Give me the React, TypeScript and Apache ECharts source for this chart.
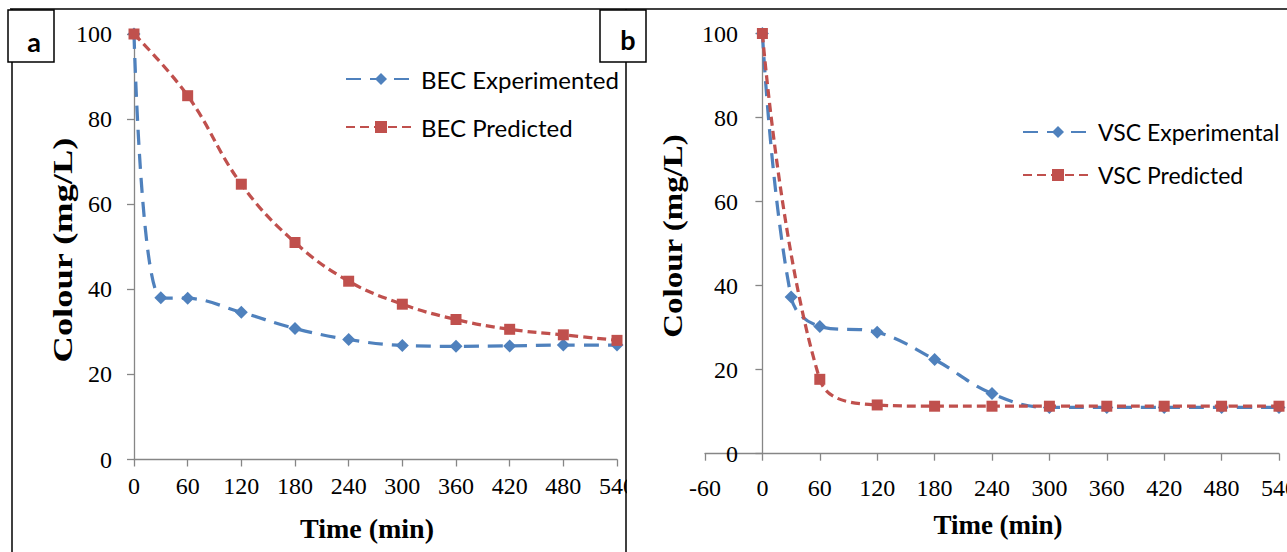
import React, { useEffect, useRef } from "react";
import * as echarts from "echarts";

// Panel a (BEC)
const becExpTime = [0, 30, 60, 120, 180, 240, 300, 360, 420, 480, 540];
const becExpValues = [100, 38.0, 37.9, 34.6, 30.8, 28.2, 26.8, 26.6, 26.7, 26.9, 26.9];
const becPredTime = [0, 60, 120, 180, 240, 300, 360, 420, 480, 540];
const becPredValues = [100, 85.5, 64.7, 51.0, 41.9, 36.5, 32.9, 30.6, 29.3, 28.0];

// Panel b (VSC)
const vscExpTime = [0, 30, 60, 120, 180, 240, 300, 360, 420, 480, 540];
const vscExpValues = [100, 37.3, 30.3, 28.9, 22.4, 14.3, 11.0, 11.0, 11.0, 11.0, 11.0];
const vscPredTime = [0, 60, 120, 180, 240, 300, 360, 420, 480, 540];
const vscPredValues = [100, 17.7, 11.6, 11.3, 11.3, 11.3, 11.3, 11.3, 11.3, 11.3];

const seriesNames = ["BEC Experimented", "BEC Predicted", "VSC Experimental", "VSC Predicted"];
const panelLetters = ["a", "b"];
const axisTitleX = "Time (min)";
const axisTitleY = "Colour (mg/L)";

const BLUE = "#4F81BD";
const RED = "#C0504D";
const AXIS = "#868686";
const SERIF = '"Liberation Serif", "Times New Roman", serif';
const SANS = 'Lato, "Noto Sans", sans-serif';

const zip = (xs: number[], ys: number[]) => xs.map((x, i) => [x, ys[i]]);

export default function App() {
  const ref = useRef<HTMLDivElement>(null);
  useEffect(() => {
    if (!ref.current) return;
    const chart = echarts.init(ref.current, null, { renderer: "svg" });

    const axisCommon = {
      type: "value",
      axisLine: { show: true, onZero: true, lineStyle: { color: AXIS, width: 1.3 } },
      axisTick: { show: true, length: 7, lineStyle: { color: AXIS, width: 1.3 } },
      splitLine: { show: false },
    };

    const tickFont = { color: "#000", fontFamily: SERIF, fontSize: 24 };

    const mkSeries = (name: string, xs: number[], ys: number[], idx: number, color: string, symbol: string, size: number, dash: number[]) => ({
      name,
      type: "line",
      xAxisIndex: idx,
      yAxisIndex: idx,
      data: zip(xs, ys),
      smooth: 0.4,
      symbol,
      symbolSize: size,
      showSymbol: true,
      itemStyle: { color },
      lineStyle: { color, width: 3.25, type: dash },
      z: symbol === "rect" ? 3 : 2,
    });

    const option: any = {
      animation: false,
      backgroundColor: "#fff",
      grid: [
        { left: 134, top: 34, width: 483, height: 425.5, outerBoundsMode: "none", containLabel: false },
        { left: 705, top: 33.5, width: 574, height: 420.2, outerBoundsMode: "none", containLabel: false },
      ],
      xAxis: [
        {
          ...axisCommon,
          gridIndex: 0,
          min: 0,
          max: 540,
          interval: 60,
          axisLabel: { ...tickFont, margin: 14, showMaxLabel: true, showMinLabel: true },
        },
        {
          ...axisCommon,
          gridIndex: 1,
          min: -60,
          max: 540,
          interval: 60,
          axisLabel: { ...tickFont, margin: 22, showMaxLabel: true, showMinLabel: true },
        },
      ],
      yAxis: [
        {
          ...axisCommon,
          gridIndex: 0,
          min: 0,
          max: 100,
          interval: 20,
          axisLabel: { ...tickFont, margin: 22 },
        },
        {
          ...axisCommon,
          gridIndex: 1,
          min: 0,
          max: 100,
          interval: 20,
          axisLabel: { ...tickFont, margin: -33 },
        },
      ],
      legend: [
        {
          data: [seriesNames[0], seriesNames[1]],
          orient: "vertical",
          left: 340,
          top: 59,
          itemWidth: 70,
          itemHeight: 15,
          itemGap: 18,
          textStyle: { color: "#000", fontFamily: SANS, fontSize: 24, lineHeight: 30 },
        },
        {
          data: [seriesNames[2], seriesNames[3]],
          orient: "vertical",
          left: 1017,
          top: 113,
          itemWidth: 70,
          itemHeight: 15,
          itemGap: 15,
          textStyle: { color: "#000", fontFamily: SANS, fontSize: 23, lineHeight: 28 },
        },
      ],
      series: [
        mkSeries(seriesNames[0], becExpTime, becExpValues, 0, BLUE, "diamond", 13, [15, 9]),
        mkSeries(seriesNames[1], becPredTime, becPredValues, 0, RED, "rect", 11, [9, 5]),
        mkSeries(seriesNames[2], vscExpTime, vscExpValues, 1, BLUE, "diamond", 13, [15, 9]),
        mkSeries(seriesNames[3], vscPredTime, vscPredValues, 1, RED, "rect", 11, [9, 5]),
      ],
      graphic: [
        // white mask clipping panel a's last tick label at the panel border
        { type: "rect", z: 100, shape: { x: 627, y: 466, width: 40, height: 40 }, style: { fill: "#fff" } },
        { type: "line", z: 101, shape: { x1: 10, y1: 9, x2: 1287, y2: 9 }, style: { stroke: "#000", lineWidth: 1.5 } },
        { type: "line", z: 101, shape: { x1: 12, y1: 9, x2: 12, y2: 552 }, style: { stroke: "#000", lineWidth: 1.5 } },
        { type: "line", z: 101, shape: { x1: 626, y1: 9, x2: 626, y2: 552 }, style: { stroke: "#000", lineWidth: 1.5 } },
        { type: "rect", z: 102, shape: { x: 8, y: 10, width: 46, height: 52 }, style: { fill: "#fff", stroke: "#000", lineWidth: 1.5 } },
        { type: "rect", z: 102, shape: { x: 600, y: 10, width: 46, height: 52 }, style: { fill: "#fff", stroke: "#000", lineWidth: 1.5 } },
        {
          type: "text", z: 103, x: 34, y: 41,
          style: { text: panelLetters[0], font: `bold 27px ${SANS}`, fill: "#000", align: "center", verticalAlign: "middle" },
        },
        {
          type: "text", z: 103, x: 628, y: 39,
          style: { text: panelLetters[1], font: `bold 27px ${SANS}`, fill: "#000", align: "center", verticalAlign: "middle" },
        },
        {
          type: "text", z: 103, x: 367, y: 528,
          style: { text: axisTitleX, font: `bold 28px ${SERIF}`, fill: "#000", align: "center", verticalAlign: "middle" },
        },
        {
          type: "text", z: 103, x: 998, y: 525,
          style: { text: axisTitleX, font: `bold 27px ${SERIF}`, fill: "#000", align: "center", verticalAlign: "middle" },
        },
        {
          type: "text", z: 103, x: 63, y: 250, rotation: Math.PI / 2, scaleX: 1.3,
          style: { text: axisTitleY, font: `bold 28px ${SERIF}`, fill: "#000", align: "center", verticalAlign: "middle" },
        },
        {
          type: "text", z: 103, x: 673, y: 236, rotation: Math.PI / 2, scaleX: 1.22,
          style: { text: axisTitleY, font: `bold 27px ${SERIF}`, fill: "#000", align: "center", verticalAlign: "middle" },
        },
      ],
    };

    chart.setOption(option);
    return () => chart.dispose();
  }, []);

  return <div ref={ref} style={{ position: "absolute", left: 0, top: 0, width: 1287, height: 552 }} />;
}
